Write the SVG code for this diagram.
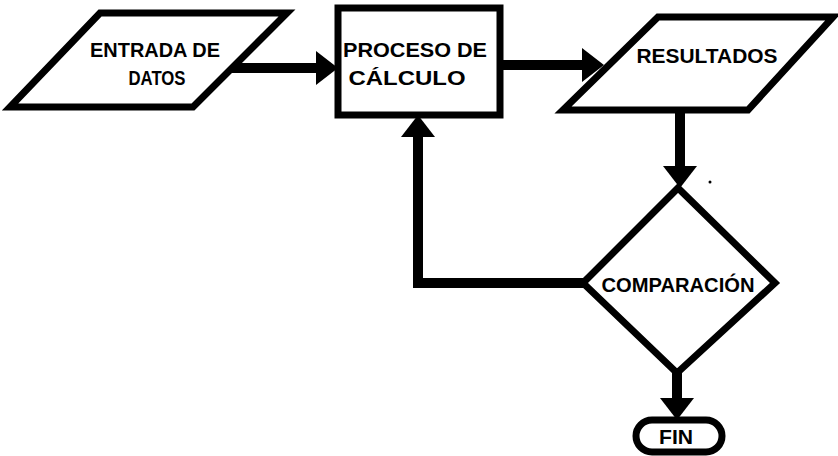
<svg xmlns="http://www.w3.org/2000/svg" width="838" height="456" viewBox="0 0 838 456">
  <style>
    .shape { fill: #ffffff; stroke: #000000; stroke-width: 7; stroke-linejoin: miter; }
    .link { fill: none; stroke: #000000; stroke-width: 10; stroke-linejoin: miter; marker-end: url(#head); }
    .label { font-family: "Liberation Sans Narrow", "Liberation Sans", Arial, sans-serif; font-weight: bold; font-size: 21px; fill: #000000; text-anchor: middle; }
  </style>
  <defs>
    <marker id="head" viewBox="0 0 22 34" refX="10" refY="17" markerWidth="22" markerHeight="34" markerUnits="userSpaceOnUse" orient="auto">
      <path d="M0,0 L22,17 L0,34 Z" fill="#000000"/>
    </marker>
  </defs>

  <!-- connectors -->
  <g id="connectors">
    <path class="link" d="M232,68 H326"/>
    <path class="link" d="M500,65 H592"/>
    <path class="link" d="M680,110 V176"/>
    <path class="link" d="M584,283 H418 V127"/>
    <path class="link" d="M677,373 V408"/>
  </g>

  <g id="entrada">
    <polygon class="shape" points="100,13 287,13 193,107 10,107"/>
    <text class="label" x="155" y="57" textLength="130" lengthAdjust="spacingAndGlyphs">ENTRADA DE</text>
    <text class="label" x="157" y="85" textLength="57" lengthAdjust="spacingAndGlyphs">DATOS</text>
  </g>

  <g id="proceso">
    <rect class="shape" x="338" y="8" width="162" height="107"/>
    <text class="label" x="415" y="57" textLength="144" lengthAdjust="spacingAndGlyphs">PROCESO DE</text>
    <text class="label" x="407" y="85" textLength="117" lengthAdjust="spacingAndGlyphs">CÁLCULO</text>
  </g>

  <g id="resultados">
    <polygon class="shape" points="658,17 833,17 748,110 563,110"/>
    <text class="label" x="707" y="63" textLength="141" lengthAdjust="spacingAndGlyphs">RESULTADOS</text>
  </g>

  <g id="comparacion">
    <polygon class="shape" points="678,188 775,283 677,373 583,283"/>
    <text class="label" x="678" y="292" textLength="153" lengthAdjust="spacingAndGlyphs">COMPARACIÓN</text>
  </g>

  <g id="fin">
    <rect class="shape" x="636" y="420" width="86" height="32" rx="16" ry="16" stroke-width="5"/>
    <text class="label" x="676" y="444" textLength="34" lengthAdjust="spacingAndGlyphs">FIN</text>
  </g>

  <circle cx="710" cy="182" r="1.5" fill="#000000"/>
</svg>
